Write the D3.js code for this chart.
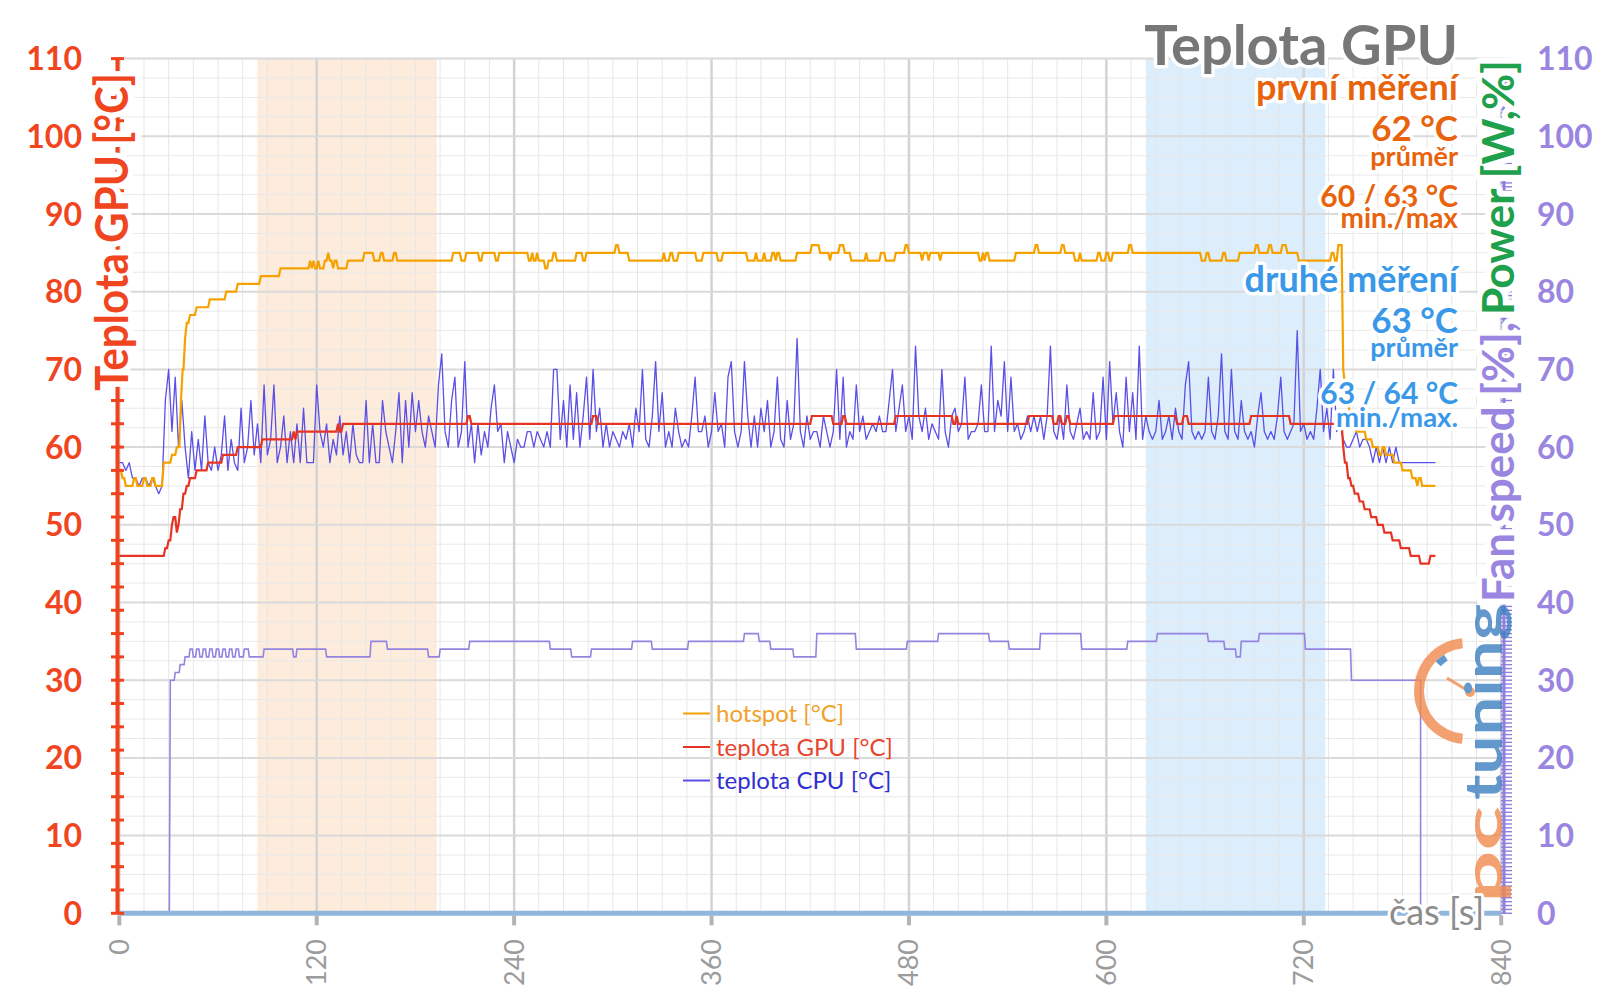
<!DOCTYPE html>
<html><head><meta charset="utf-8">
<script src="https://cdn.jsdelivr.net/npm/d3@7"></script>
<style>
body{margin:0;background:#fff}
svg{display:block}
text{font-family:Lato,"Open Sans","DejaVu Sans",sans-serif}
</style>
</head><body>
<svg id="c" width="1600" height="1008"></svg>
<script>
// ---------- DATA ----------
const timeTicks = [0,120,240,360,480,600,720,840];
const tempTicks = [0,10,20,30,40,50,60,70,80,90,100,110];
const orangeBand = [84,193];
const blueBand = [624,733];

// hotspot [time s, °C] change points
const hotspot = [[0,57],[2,56],[4,55],[9,56],[11,55],[15,56],[17,55],[20,56],[22,55],[27,58],[32,59],[35,60],[37.5,66],[38.5,70],[40,74],[41,76],[43,77],[47,78],[55,79],[65,80],[72,81],[86,82],[98,83],[116,84],[117,83],[118,84],[119,83],[121,84],[122,83],[125,84],[127,85],[128,84],[130,83],[131,84],[133,83],[139,84],[149,85],[155,84],[159,85],[161,84],[167,85],[169,84],[203,85],[208,84],[211,85],[219,84],[221,85],[229,84],[231,85],[249,84],[251,85],[252,84],[254,85],[255,84],[259,83],[261,84],[264,85],[266,84],[278,85],[282,84],[284,85],[302,86],[304,85],[310,84],[331,85],[332,84],[335,85],[337,84],[340,85],[351,84],[355,85],[364,84],[367,85],[382,84],[387,85],[388,84],[392,85],[393,84],[397,85],[399,84],[400,85],[402,84],[412,85],[421,86],[426,85],[432,84],[433,85],[438,86],[441,85],[445,84],[454,85],[455,84],[463,85],[466,84],[472,85],[478,86],[480,85],[488,84],[489,85],[492,84],[493,85],[499,84],[500,85],[523,84],[525,85],[526,84],[527,85],[529,84],[545,85],[557,86],[559,85],[573,86],[575,85],[581,84],[584,85],[585,84],[595,85],[597,84],[600,85],[602,84],[604,85],[614,86],[616,85],[658,84],[661,85],[663,84],[671,85],[673,84],[681,85],[691,86],[693,85],[699,86],[701,85],[707,86],[710,85],[717,84],[737,85],[739,84],[741,86],[743,86],[744,70],[745,68],[746.5,66],[748,64],[750,63],[752,62],[758,61],[762,60],[766,59],[768,60],[770,59],[775,58],[780,57],[786,56],[789,55],[790,56],[792,55],[800,55]];

// GPU temperature [time s, °C] change points
const gpuTemp = [[0,46],[27,46],[28,47],[30,48],[32,50],[33,51],[35,49],[36,50],[37,52],[39,54],[41,55],[43,56],[47,57],[54,58],[63,59],[72,60],[87,61],[106,62],[107,61],[108,62],[133,63],[134,62],[136,63],[212,64],[214,63],[288,64],[291,63],[421,64],[434,63],[440,64],[442,63],[472,64],[507,63],[509,64],[510,63],[553,64],[568,63],[571,64],[573,63],[576,64],[578,63],[605,64],[643,63],[647,64],[650,63],[688,64],[712,63],[743,63],[744,60],[745,58],[747,56],[749,55],[751,54],[754,53],[757,52],[761,51],[765,50],[769,49],[774,48],[779,47],[785,46],[791,45],[797,46],[800,46]];

// CPU temperature, one value every 2 s from 0 s
const cpuInterval = 2;
const cpuTemp = [
58,58,57,58,56,56,55,56,56,55,56,55,54,55,
66,70,62,69,60,66,60,56,62,57,
61,57,64,58,57,60,57,59,64,57,
61,58,57,65,58,60,66,59,63,58,
68,59,61,68,58,60,64,58,62,58,
63,58,65,58,58,58,68,62,60,63,
58,61,59,64,59,62,58,63,59,58,
58,66,58,63,58,58,66,62,60,58,
62,67,58,66,60,67,62,66,62,60,
64,62,60,68,72,62,60,66,69,60,
62,71,60,63,58,63,59,62,60,65,
68,62,63,58,62,60,58,61,60,60,
62,62,60,62,61,60,62,60,70,70,
61,66,60,68,61,67,60,64,69,61,
70,62,65,60,63,60,62,61,60,62,
61,63,60,65,62,70,61,60,64,71,
62,67,60,62,60,65,62,60,61,60,
64,69,62,62,64,60,62,67,62,63,
60,69,71,62,60,62,71,64,60,64,
60,65,62,66,60,62,69,61,60,66,
61,63,74,62,60,64,61,62,62,60,
64,62,60,62,70,61,69,60,62,61,
68,62,64,61,62,63,62,64,62,62,
66,70,62,65,68,62,64,61,73,64,
62,65,61,63,62,61,70,62,60,64,
65,62,63,69,61,62,62,63,68,62,
62,73,62,66,64,71,62,69,62,63,
61,62,64,62,64,62,64,61,64,73,
62,61,64,61,68,62,61,63,65,61,
62,61,67,61,62,69,61,71,63,67,
62,60,69,62,67,61,73,61,64,62,
61,62,66,61,62,64,61,65,62,61,
68,71,62,61,62,61,62,69,62,61,
64,72,62,61,70,62,61,66,62,61,
62,60,64,67,62,61,62,61,64,69,
62,61,62,63,75,62,63,61,62,61,
65,70,62,65,61,70,62,63,61,60,
60,61,62,60,61,61,60,58,60,58,
60,58,60,58,60,58,58,58,58,58,
58,58,58,58,58,58,58];

// Fan speed [time s, %] change points (right axis)
const fanSpeed = [[0,0],[31,30],[34,31],[37,32],[40,33],[43,34],[45,33],[47,34],[49,33],[51,34],[53,33],[55,34],[57,33],[59,34],[61,33],[63,34],[65,33],[67,34],[69,33],[71,34],[73,33],[76,34],[79,33],[88,34],[106,33],[108,34],[126,33],[153,35],[163,34],[188,33],[195,34],[213,35],[262,34],[275,33],[287,34],[312,35],[324,34],[346,35],[380,36],[389,35],[396,34],[410,33],[424,36],[448,34],[479,35],[498,36],[529,35],[541,34],[560,36],[585,34],[613,35],[631,36],[662,35],[672,34],[679,33],[682,35],[693,36],[721,34],[749,30],[791,30],[791,0]];

const legendItems = [
  {label:"hotspot [°C]", line:"#f5a200", text:"#f0a22a"},
  {label:"teplota GPU [°C]", line:"#e63424", text:"#e8442e"},
  {label:"teplota CPU [°C]", line:"#5a4fe6", text:"#2f2fd2"}
];
const infoFirst = {head:"první měření", avg:"62 °C", avgLbl:"průměr", mm:"60 / 63 °C", mmLbl:"min./max"};
const infoSecond = {head:"druhé měření", avg:"63 °C", avgLbl:"průměr", mm:"63 / 64 °C", mmLbl:"min./max."};

// ---------- CHART ----------
const svg = d3.select("#c");
const x = d3.scaleLinear().domain([0,840]).range([119.3,1501.2]);
const y = d3.scaleLinear().domain([0,110]).range([913.3,58.6]);
const yR = d3.scaleLinear().domain([0,110]).range([913.3,58.6]);

// bands
svg.append("rect").attr("x",x(orangeBand[0])).attr("width",x(orangeBand[1])-x(orangeBand[0]))
  .attr("y",y(110)).attr("height",y(0)-y(110)).attr("fill","#f9c89a").attr("opacity",0.35);
svg.append("rect").attr("x",x(blueBand[0])).attr("width",x(blueBand[1])-x(blueBand[0]))
  .attr("y",y(110)).attr("height",y(0)-y(110)).attr("fill","#9ccbf7").attr("opacity",0.35);

// grid
const g = svg.append("g");
g.selectAll(".vm").data(d3.range(0,841,15)).join("line")
  .attr("x1",d=>x(d)).attr("x2",d=>x(d)).attr("y1",y(110)).attr("y2",y(0))
  .attr("stroke","#e6e6e6").attr("stroke-width",1);
g.selectAll(".hm").data(d3.range(0,110.1,2.5)).join("line")
  .attr("y1",d=>y(d)).attr("y2",d=>y(d)).attr("x1",x(0)).attr("x2",x(840))
  .attr("stroke","#e9e9e9").attr("stroke-width",1);
g.selectAll(".vM").data(timeTicks).join("line")
  .attr("x1",d=>x(d)).attr("x2",d=>x(d)).attr("y1",y(110)).attr("y2",y(0))
  .attr("stroke","#d3d3d3").attr("stroke-width",2.5);
g.selectAll(".hM").data(tempTicks).join("line")
  .attr("y1",d=>y(d)).attr("y2",d=>y(d)).attr("x1",x(0)).attr("x2",x(840))
  .attr("stroke","#dadada").attr("stroke-width",2);

function ramped(pts, r){
  const out=[];
  pts.forEach((p,i)=>{
    if(i>0){const prev=pts[i-1]; out.push([Math.max(prev[0],p[0]-r),prev[1]]);}
    out.push(p);
  });
  return out;
}
const line = d3.line().x(d=>x(d[0])).y(d=>y(d[1]));
const lineR = d3.line().x(d=>x(d[0])).y(d=>yR(d[1]));

svg.append("path").attr("d",lineR(ramped(fanSpeed,0.6))).attr("fill","none")
  .attr("stroke","#9484e0").attr("stroke-width",1.6);
svg.append("path").attr("d",line(cpuTemp.map((v,i)=>[i*cpuInterval,v]))).attr("fill","none")
  .attr("stroke","#5a4fe6").attr("stroke-width",1.3).attr("stroke-linejoin","round");
svg.append("path").attr("d",line(ramped(gpuTemp,1))).attr("fill","none")
  .attr("stroke","#e63424").attr("stroke-width",2.2);
svg.append("path").attr("d",line(ramped(hotspot,1))).attr("fill","none")
  .attr("stroke","#f5a200").attr("stroke-width",2.2);

// legend
const lg = svg.append("g");
legendItems.forEach((it,i)=>{
  const ly = 713.5 + i*33.5;
  lg.append("line").attr("x1",683).attr("x2",710).attr("y1",ly).attr("y2",ly)
    .attr("stroke",it.line).attr("stroke-width",2);
  lg.append("text").attr("x",716).attr("y",ly+8.5).attr("font-size",24)
    .attr("fill",it.text).text(it.label);
});

// x axis
svg.append("line").attr("x1",x(0)).attr("x2",x(840)).attr("y1",y(0)).attr("y2",y(0))
  .attr("stroke","#90b6dc").attr("stroke-width",5);
svg.selectAll(".xt").data(timeTicks).join("line")
  .attr("x1",d=>x(d)).attr("x2",d=>x(d)).attr("y1",y(0)+2).attr("y2",y(0)+12)
  .attr("stroke","#b3b3b3").attr("stroke-width",4);
svg.selectAll(".xl").data(timeTicks).join("text")
  .attr("transform",d=>`translate(${x(d)+9.5},939) rotate(-90)`)
  .attr("text-anchor","end").attr("font-size",27).attr("fill","#9c9c9c").text(d=>d);

// left axis
svg.append("line").attr("x1",117.5).attr("x2",117.5).attr("y1",y(0)).attr("y2",y(110))
  .attr("stroke","#f0421c").attr("stroke-width",4);
svg.selectAll(".lt").data(d3.range(0,110,3).concat([110])).join("line")
  .attr("x1",111).attr("x2",124).attr("y1",d=>y(d)).attr("y2",d=>y(d))
  .attr("stroke","#f0421c").attr("stroke-width",3);
svg.selectAll(".ll").data(tempTicks).join("text")
  .attr("x",82).attr("y",d=>y(d)+11.5).attr("text-anchor","end")
  .attr("font-size",32).attr("font-weight",700).attr("fill","#f0451f").text(d=>d);

// right axis
svg.append("line").attr("x1",1504).attr("x2",1504).attr("y1",yR(0)).attr("y2",yR(110))
  .attr("stroke","#8f7fe0").attr("stroke-width",3);
svg.selectAll(".rt").data(d3.range(0,110.1,0.5)).join("line")
  .attr("x1",1501).attr("x2",1512).attr("y1",d=>yR(d)).attr("y2",d=>yR(d))
  .attr("stroke","#8f7fe0").attr("stroke-width",1.4);
svg.selectAll(".rl").data(tempTicks).join("text")
  .attr("x",1537).attr("y",d=>yR(d)+11.5)
  .attr("font-size",32).attr("font-weight",700).attr("fill","#9a86e0").text(d=>d);

// logo (pctuning)
const logo = svg.append("g").attr("opacity",0.8);
logo.append("path").attr("transform","translate(1467,691)")
  .attr("d",d3.arc()({innerRadius:43,outerRadius:53,startAngle:Math.PI*1.03,endAngle:Math.PI*1.97}))
  .attr("fill","#f28a4f");
logo.append("path").attr("transform","translate(1467,691)")
  .attr("d",d3.arc()({innerRadius:36,outerRadius:43,startAngle:Math.PI*1.74,endAngle:Math.PI*1.82}))
  .attr("fill","#3a7fc4");
logo.append("line").attr("x1",1447).attr("y1",678).attr("x2",1470).attr("y2",692)
  .attr("stroke","#f28a4f").attr("stroke-width",3);
logo.append("circle").attr("cx",1470).attr("cy",692).attr("r",5).attr("fill","#f28a4f");
logo.append("text").attr("transform","translate(1502,800) rotate(-90)")
  .attr("font-size",52).attr("font-weight",700).attr("fill","#3d7fc1")
  .attr("textLength",196).attr("lengthAdjust","spacingAndGlyphs").text("tuning");
logo.append("text").attr("transform","translate(1502,903) rotate(-90)")
  .attr("font-size",52).attr("font-weight",700).attr("fill","#f28a4f")
  .attr("textLength",97).attr("lengthAdjust","spacingAndGlyphs").text("pc");

// halo helper
function halo(sel,w){return sel.attr("stroke","#fff").attr("stroke-width",w||6)
  .attr("stroke-linejoin","round").attr("paint-order","stroke");}

// axis titles
halo(svg.append("text").attr("transform","translate(128,391) rotate(-90)")
  .attr("font-size",45).attr("font-weight",700).attr("fill","#f0451f")
  .attr("textLength",318).attr("lengthAdjust","spacingAndGlyphs").text("Teplota GPU [°C]"),12);
halo(svg.append("text").attr("transform","translate(1514,602) rotate(-90)")
  .attr("font-size",44).attr("font-weight",700).attr("fill","#9a86e0")
  .attr("textLength",280).attr("lengthAdjust","spacingAndGlyphs").text("Fan speed [%],"),12);
halo(svg.append("text").attr("transform","translate(1514,315) rotate(-90)")
  .attr("font-size",44).attr("font-weight",700).attr("fill","#1fa04c")
  .attr("textLength",255).attr("lengthAdjust","spacingAndGlyphs").text("Power [W,%]"),12);
halo(svg.append("text").attr("x",1389).attr("y",925).attr("font-size",36)
  .attr("fill","#8c8c8c").text("čas [s]"),6);

// info block
const info = [
  {t:"Teplota GPU", y:65, s:56, c:"#777777"},
  {t:infoFirst.head, y:100, s:36, c:"#e8630c"},
  {t:infoFirst.avg, y:141, s:35, c:"#e8630c"},
  {t:infoFirst.avgLbl, y:166, s:27, c:"#e8630c"},
  {t:infoFirst.mm, y:207, s:30, c:"#e8630c"},
  {t:infoFirst.mmLbl, y:228, s:28, c:"#e8630c"},
  {t:infoSecond.head, y:292, s:36, c:"#3a98e8"},
  {t:infoSecond.avg, y:333, s:35, c:"#3a98e8"},
  {t:infoSecond.avgLbl, y:357, s:27, c:"#3a98e8"},
  {t:infoSecond.mm, y:404, s:30, c:"#3a98e8"},
  {t:infoSecond.mmLbl, y:427, s:27.5, c:"#3a98e8"}
];
info.forEach(d=>{
  halo(svg.append("text").attr("x",1458).attr("y",d.y).attr("text-anchor","end")
    .attr("font-size",d.s).attr("font-weight",700).attr("fill",d.c).text(d.t),7);
});
</script>
</body></html>
